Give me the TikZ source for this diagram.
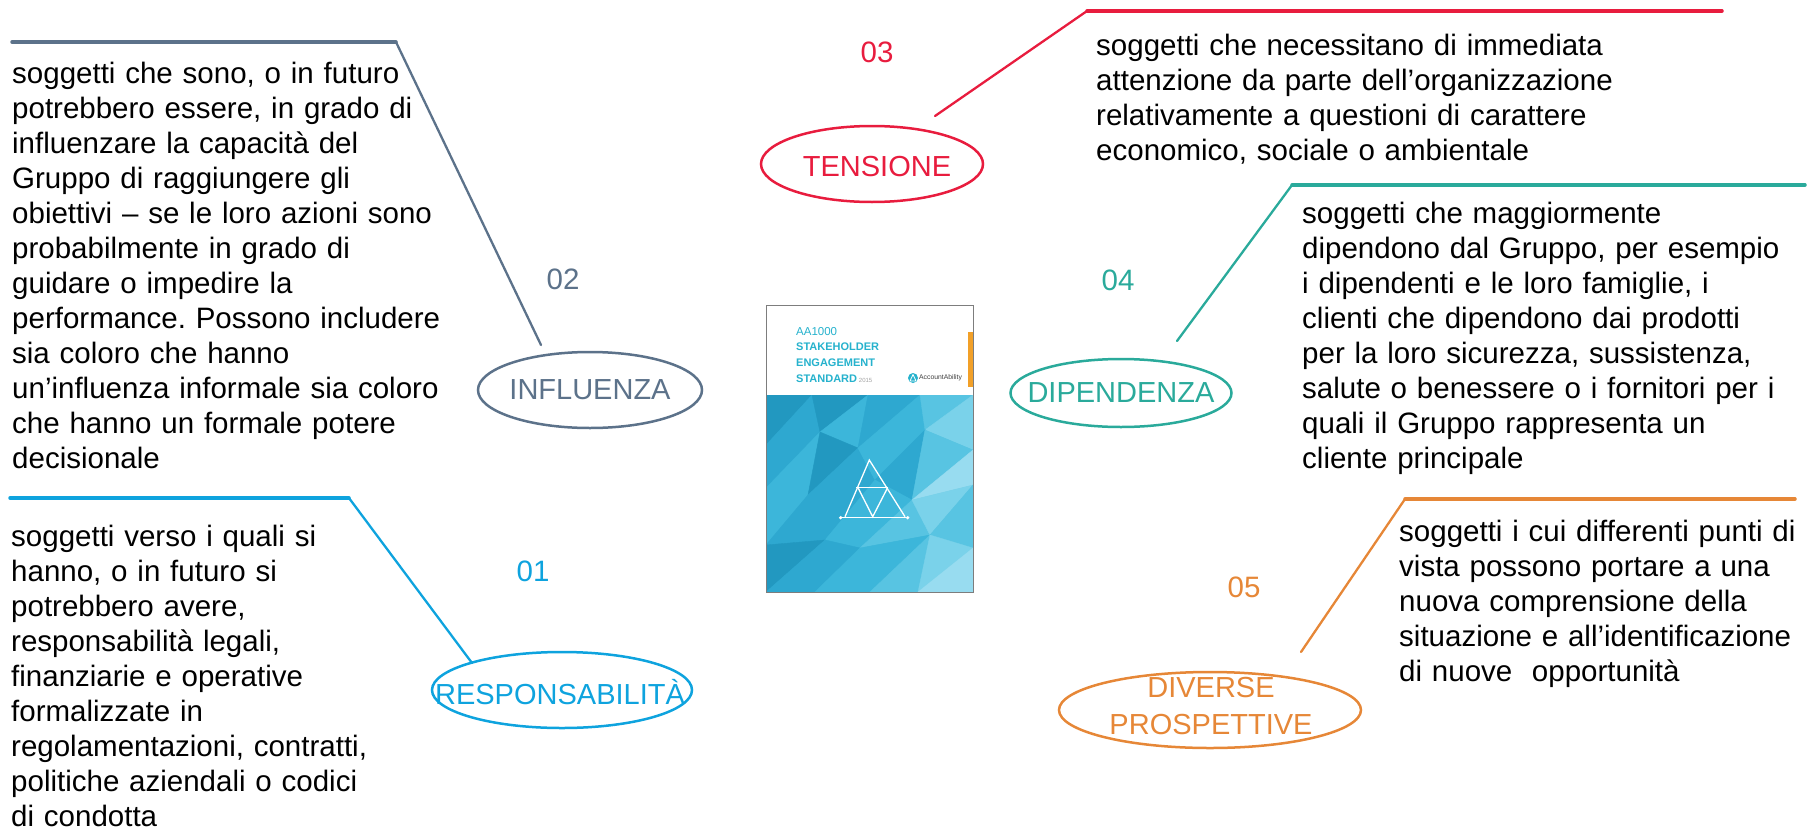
\documentclass[tikz,border=0pt]{standalone}
\usepackage{fontspec}
\setmainfont{Liberation Sans}
\usetikzlibrary{shapes.geometric}
\frenchspacing

\definecolor{cslate}{RGB}{92,114,138}
\definecolor{cred}{RGB}{232,28,62}
\definecolor{cteal}{RGB}{42,170,155}
\definecolor{cblue}{RGB}{14,163,222}
\definecolor{corange}{RGB}{230,135,55}
\definecolor{bookcyan}{RGB}{38,178,205}
\definecolor{bookbar}{RGB}{242,160,40}
\definecolor{bookframe}{RGB}{125,125,125}
\definecolor{pA}{RGB}{34,152,192}
\definecolor{pB}{RGB}{46,168,208}
\definecolor{pC}{RGB}{60,182,218}
\definecolor{pD}{RGB}{88,196,226}
\definecolor{pE}{RGB}{122,210,234}
\definecolor{pF}{RGB}{152,220,240}

\tikzset{
  bodytext/.style={anchor=base west, inner sep=0pt, text width=520pt, align=left,
    font=\fontsize{29.5}{35}\selectfont, text=black},
  tag/.style={ellipse, draw, line width=2.5pt, inner sep=0pt},
  tagtext/.style={inner sep=0pt, align=center, font=\fontsize{29}{37}\selectfont},
  numtext/.style={inner sep=0pt, font=\fontsize{29.5}{35}\selectfont},
  rail/.style={line width=3.5pt, line cap=round},
  leader/.style={line width=2.3pt, line cap=round},
  facet/.style={fill=#1, draw=#1, line width=0.4pt},
  booktitle/.style={anchor=west, inner sep=0pt, text=bookcyan,
    font=\bfseries\fontsize{11}{12}\selectfont},
}

\begin{document}
\begin{tikzpicture}[x=1pt,y=-1pt]
\useasboundingbox (0,0) rectangle (1809,830);

% ---------- 02 INFLUENZA ----------
\node[tag, cslate, minimum width=224, minimum height=76] (infl) at (590,390) {};
\node[tagtext, text=cslate] (infllbl) at (infl.center) {INFLUENZA};
\node[numtext, text=cslate] (n02) at (563,279) {02};
\coordinate (inflA) at (541,345);
\coordinate (inflB) at (396,42);
\coordinate (inflC) at (12,42);
\draw[cslate, leader] (inflA) -- (inflB);
\draw[cslate, rail] (inflB) -- (inflC);
\node[bodytext] (infltxt) at (12,83) {soggetti che sono, o in futuro\\
potrebbero essere, in grado di\\
influenzare la capacità del\\
Gruppo di raggiungere gli\\
obiettivi – se le loro azioni sono\\
probabilmente in grado di\\
guidare o impedire la\\
performance. Possono includere\\
sia coloro che hanno\\
un’influenza informale sia coloro\\
che hanno un formale potere\\
decisionale};

% ---------- 03 TENSIONE ----------
\node[tag, cred, minimum width=222, minimum height=76] (tens) at (872,164) {};
\node[tagtext, text=cred] (tenslbl) at (877,167) {TENSIONE};
\node[numtext, text=cred] (n03) at (877,52) {03};
\coordinate (tensA) at (935,116);
\coordinate (tensB) at (1087,11);
\coordinate (tensC) at (1722,11);
\draw[cred, leader] (tensA) -- (tensB);
\draw[cred, rail] (tensB) -- (tensC);
\node[bodytext] (tenstxt) at (1096,55) {soggetti che necessitano di immediata\\
attenzione da parte dell’organizzazione\\
relativamente a questioni di carattere\\
economico, sociale o ambientale};

% ---------- 04 DIPENDENZA ----------
\node[tag, cteal, minimum width=221, minimum height=68] (dipe) at (1121,393) {};
\node[tagtext, text=cteal] (dipelbl) at (dipe.center) {DIPENDENZA};
\node[numtext, text=cteal] (n04) at (1118,280) {04};
\coordinate (dipeA) at (1177,341);
\coordinate (dipeB) at (1292,185);
\coordinate (dipeC) at (1805,185);
\draw[cteal, leader] (dipeA) -- (dipeB);
\draw[cteal, rail] (dipeB) -- (dipeC);
\node[bodytext] (dipetxt) at (1302,223) {soggetti che maggiormente\\
dipendono dal Gruppo, per esempio\\
i dipendenti e le loro famiglie, i\\
clienti che dipendono dai prodotti\\
per la loro sicurezza, sussistenza,\\
salute o benessere o i fornitori per i\\
quali il Gruppo rappresenta un\\
cliente principale};

% ---------- 01 RESPONSABILITÀ ----------
\node[tag, cblue, minimum width=260, minimum height=76] (resp) at (562,690) {};
\node[tagtext, text=cblue] (resplbl) at (560,692) {RESPONSABILITÀ};
\node[numtext, text=cblue] (n01) at (533,571) {01};
\coordinate (respA) at (472,663);
\coordinate (respB) at (349,498);
\coordinate (respC) at (10,498);
\draw[cblue, leader] (respA) -- (respB);
\draw[cblue, rail] (respB) -- (respC);
\node[bodytext] (resptxt) at (11,546) {soggetti verso i quali si\\
hanno, o in futuro si\\
potrebbero avere,\\
responsabilità legali,\\
finanziarie e operative\\
formalizzate in\\
regolamentazioni, contratti,\\
politiche aziendali o codici\\
di condotta};

% ---------- 05 DIVERSE PROSPETTIVE ----------
\node[tag, corange, minimum width=302, minimum height=76] (dive) at (1210,710) {};
\node[tagtext, text=corange] (divelbl) at (1211,706) {DIVERSE\\PROSPETTIVE};
\node[numtext, text=corange] (n05) at (1244,587) {05};
\coordinate (diveA) at (1301,652);
\coordinate (diveB) at (1405,499);
\coordinate (diveC) at (1795,499);
\draw[corange, leader] (diveA) -- (diveB);
\draw[corange, rail] (diveB) -- (diveC);
\node[bodytext] (divetxt) at (1399,541) {soggetti i cui differenti punti di\\
vista possono portare a una\\
nuova comprensione della\\
situazione e all’identificazione\\
di nuove \ opportunità};

% ---------- central book cover ----------
\begin{scope}
  \clip (766,395) rectangle (973,592);
  \fill[pC] (766,395) rectangle (973,592);
  % low-poly mesh
  \coordinate (p00) at (766,395); \coordinate (p01) at (812,395); \coordinate (p02) at (868,395); \coordinate (p03) at (920,395); \coordinate (p04) at (973,395);
  \coordinate (p10) at (766,445); \coordinate (p11) at (820,432); \coordinate (p12) at (858,448); \coordinate (p13) at (925,430); \coordinate (p14) at (973,450);
  \coordinate (p20) at (766,488); \coordinate (p21) at (808,495); \coordinate (p22) at (875,480); \coordinate (p23) at (912,500); \coordinate (p24) at (973,485);
  \coordinate (p30) at (766,545); \coordinate (p31) at (825,540); \coordinate (p32) at (860,548); \coordinate (p33) at (930,535); \coordinate (p34) at (973,548);
  \coordinate (p40) at (766,592); \coordinate (p41) at (815,592); \coordinate (p42) at (870,592); \coordinate (p43) at (918,592); \coordinate (p44) at (973,592);
  % row 0
  \fill[facet=pA] (p00) -- (p01) -- (p10) -- cycle; \fill[facet=pB] (p01) -- (p11) -- (p10) -- cycle;
  \fill[facet=pA] (p01) -- (p02) -- (p11) -- cycle; \fill[facet=pC] (p02) -- (p12) -- (p11) -- cycle;
  \fill[facet=pB] (p02) -- (p03) -- (p12) -- cycle; \fill[facet=pC] (p03) -- (p13) -- (p12) -- cycle;
  \fill[facet=pD] (p03) -- (p04) -- (p13) -- cycle; \fill[facet=pE] (p04) -- (p14) -- (p13) -- cycle;
  % row 1
  \fill[facet=pB] (p10) -- (p11) -- (p20) -- cycle; \fill[facet=pC] (p11) -- (p21) -- (p20) -- cycle;
  \fill[facet=pA] (p11) -- (p12) -- (p21) -- cycle; \fill[facet=pB] (p12) -- (p22) -- (p21) -- cycle;
  \fill[facet=pC] (p12) -- (p13) -- (p22) -- cycle; \fill[facet=pB] (p13) -- (p23) -- (p22) -- cycle;
  \fill[facet=pD] (p13) -- (p14) -- (p23) -- cycle; \fill[facet=pF] (p14) -- (p24) -- (p23) -- cycle;
  % row 2
  \fill[facet=pC] (p20) -- (p21) -- (p30) -- cycle; \fill[facet=pB] (p21) -- (p31) -- (p30) -- cycle;
  \fill[facet=pB] (p21) -- (p22) -- (p31) -- cycle; \fill[facet=pC] (p22) -- (p32) -- (p31) -- cycle;
  \fill[facet=pC] (p22) -- (p23) -- (p32) -- cycle; \fill[facet=pD] (p23) -- (p33) -- (p32) -- cycle;
  \fill[facet=pE] (p23) -- (p24) -- (p33) -- cycle; \fill[facet=pD] (p24) -- (p34) -- (p33) -- cycle;
  % row 3
  \fill[facet=pA] (p30) -- (p31) -- (p40) -- cycle; \fill[facet=pB] (p31) -- (p41) -- (p40) -- cycle;
  \fill[facet=pB] (p31) -- (p32) -- (p41) -- cycle; \fill[facet=pC] (p32) -- (p42) -- (p41) -- cycle;
  \fill[facet=pC] (p32) -- (p33) -- (p42) -- cycle; \fill[facet=pD] (p33) -- (p43) -- (p42) -- cycle;
  \fill[facet=pE] (p33) -- (p34) -- (p43) -- cycle; \fill[facet=pF] (p34) -- (p44) -- (p43) -- cycle;
\end{scope}
\fill[white] (766,305) rectangle (973,395);
\fill[bookbar] (968,332) rectangle (973,387);
\draw[bookframe, line width=1pt] (766,305) rectangle (973,592);

\node[anchor=west, inner sep=0pt, text=bookcyan, font=\fontsize{11.5}{12}\selectfont] (bk1) at (796,332) {AA1000};
\node[booktitle] (bk2) at (796,347) {STAKEHOLDER};
\node[booktitle] (bk3) at (796,363) {ENGAGEMENT};
\node[booktitle] (bk4) at (796,379) {STANDARD\,{\mdseries\color{bookframe!70}\fontsize{6}{6}\selectfont 2015}};
\fill[bookcyan] (913,378) circle (5);
\draw[white, line width=0.8pt] (913,374.5) -- (910,381) -- (916,381) -- cycle;
\node[anchor=west, inner sep=0pt, text=black!75, font=\fontsize{6.8}{7}\selectfont] (bk5) at (919,378) {AccountAbility};

% triangle emblem on the cover
\begin{scope}[white, line width=1.3pt]
  \draw (845,516.7) -- (869.3,460) -- (905,516.7);
  \draw (840.7,517.7) -- (907.7,517.7);
  \draw (856,487.3) -- (888.3,487.3);
  \draw (858.3,488.3) -- (872.7,516.7) -- (887.3,488.3);
  \fill (840.7,517.7) circle (1.8);
  \fill (907.7,517.7) circle (1.8);
\end{scope}

\end{tikzpicture}
\end{document}
